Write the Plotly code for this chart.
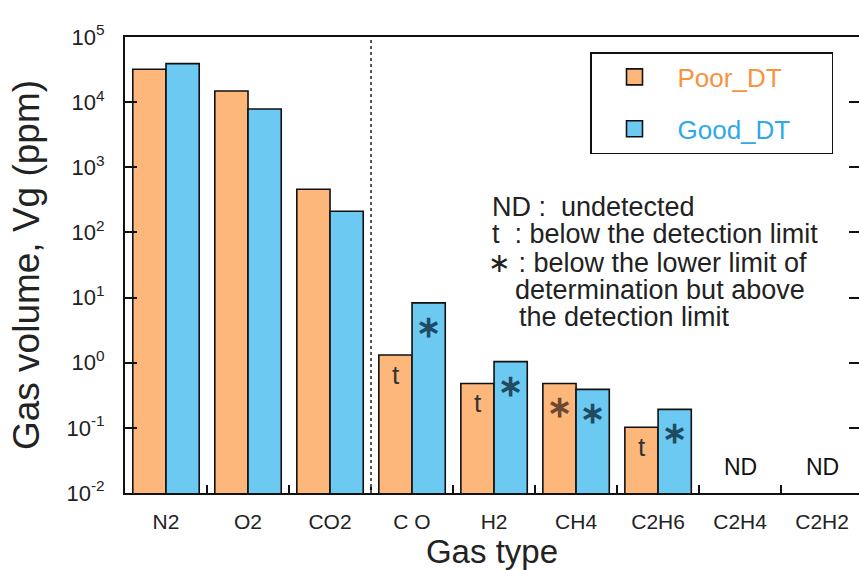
import math
import plotly.graph_objects as go

gases = ["N2", "O2", "CO2", "C O", "H2", "CH4", "C2H6", "C2H4", "C2H2"]
poor_dt = [32000, 14800, 460, 1.31, 0.48, 0.48, 0.102, None, None]
good_dt = [39000, 7850, 211, 8.3, 1.04, 0.39, 0.192, None, None]
poor_marks = ["", "", "", "t", "t", "∗", "t", "", ""]
good_marks = ["", "", "", "∗", "∗", "∗", "∗", "", ""]
nd_flags = ["", "", "", "", "", "", "", "ND", "ND"]
ytick_vals = [1e-2, 1e-1, 1, 10, 100, 1e3, 1e4, 1e5]
ytick_text = ["10<sup>-2</sup>", "10<sup>-1</sup>", "10<sup>0</sup>", "10<sup>1</sup>",
              "10<sup>2</sup>", "10<sup>3</sup>", "10<sup>4</sup>", "10<sup>5</sup>"]
legend_names = ["Poor_DT", "Good_DT"]
notes = ["ND :  undetected",
         "t  : below the detection limit",
         "∗ : below the lower limit of",
         "determination but above",
         "the detection limit"]

ORANGE = "#FDB77A"
BLUE = "#6CC9F1"
ORANGE_TXT = "#F8923F"
BLUE_TXT = "#2FA9E8"
FONT = "Liberation Sans, Arial, sans-serif"
PAD = "&nbsp;" * 5

fig = go.Figure()
fig.add_trace(go.Bar(x=gases, y=poor_dt, name=legend_names[0],
                     marker=dict(color=ORANGE, line=dict(color="#111", width=1.6)), showlegend=False))
fig.add_trace(go.Bar(x=gases, y=good_dt, name=legend_names[1],
                     marker=dict(color=BLUE, line=dict(color="#111", width=1.6)), showlegend=False))

# legend entries
fig.add_trace(go.Scatter(x=[None], y=[None], mode="markers", legendgroup="a",
                         name=f"<span style='color:{ORANGE_TXT}'>{legend_names[0]}</span>{PAD}",
                         marker=dict(symbol="square", size=16, color=ORANGE, line=dict(color="#111", width=1.6))))
fig.add_trace(go.Scatter(x=[None], y=[None], mode="markers", legendgroup="b",
                         name=f"<span style='color:{BLUE_TXT}'>{legend_names[1]}</span>{PAD}",
                         marker=dict(symbol="square", size=16, color=BLUE, line=dict(color="#111", width=1.6))))
# carrier for the right-side inner ticks
fig.add_trace(go.Scatter(x=[gases[0]], y=[1], yaxis="y2", mode="markers", marker=dict(opacity=0),
                         showlegend=False, hoverinfo="skip"))

ann = []
for i, g in enumerate(gases):
    if poor_marks[i]:
        is_t = poor_marks[i] == "t"
        ann.append(dict(x=i - 0.2, y=math.log10(poor_dt[i]), xref="x", yref="y",
                        text=poor_marks[i] if is_t else f"<b>{poor_marks[i]}</b>",
                        showarrow=False, yanchor="top", yshift=-3 if is_t else -5,
                        font=dict(size=26 if is_t else 30, color="#333" if is_t else "#6b4a30", family=FONT)))
    if good_marks[i]:
        ann.append(dict(x=i + 0.2, y=math.log10(good_dt[i]), xref="x", yref="y",
                        text=f"<b>{good_marks[i]}</b>",
                        showarrow=False, yanchor="top", yshift=-5,
                        font=dict(size=30, color="#1f4b63", family=FONT)))
    if nd_flags[i]:
        ann.append(dict(x=i, y=-1.6, xref="x", yref="y", text=nd_flags[i], showarrow=False,
                        font=dict(size=23, color="#111", family=FONT)))

note_pos = [(491, 206), (491, 234), (487, 262), (514, 289), (518, 316)]
for t, (px, py) in zip(notes, note_pos):
    ann.append(dict(x=(px - 125) / 734, y=(493 - py) / 456, xref="paper", yref="paper", text=t,
                    showarrow=False, xanchor="left", yanchor="middle", height=25, borderpad=0,
                    font=dict(size=27, color="#222", family=FONT)))

fig.update_layout(
    width=859, height=570,
    margin=dict(l=125, r=0, t=37, b=77),
    paper_bgcolor="white", plot_bgcolor="white",
    barmode="group", bargap=0.19, bargroupgap=0,
    font=dict(family=FONT, color="#222"),
    xaxis=dict(type="category", range=[-0.5, 8.45], showline=True, linecolor="#111", linewidth=2,
               mirror=True, ticks="inside", ticklen=8, tickcolor="#111", tickwidth=1.5,
               tickson="boundaries", showgrid=False, ticklabelstandoff=9,
               tickfont=dict(size=21, color="#222"),
               title=dict(text="Gas type", font=dict(size=33, color="#222"), standoff=0)),
    yaxis=dict(type="log", range=[-2, 5], showline=True, linecolor="#111", linewidth=2,
               ticks="inside", ticklen=12, tickcolor="#111", tickwidth=1.5, showgrid=False,
               tickvals=ytick_vals, ticktext=ytick_text, tickfont=dict(size=22, color="#222"),
               ticklabelstandoff=14,
               title=dict(text="Gas volume, Vg (ppm)", font=dict(size=37, color="#222"), standoff=15)),
    yaxis2=dict(type="log", range=[-2, 5], overlaying="y", side="right", anchor="x",
                showline=False, ticks="inside", ticklen=10, tickcolor="#111", tickwidth=1.5,
                tickvals=ytick_vals, showticklabels=False, showgrid=False, zeroline=False),
    legend=dict(x=(590 - 125) / 734, y=(493 - 52) / 456, xanchor="left", yanchor="top",
                bgcolor="white", bordercolor="#111", borderwidth=1.5,
                font=dict(size=26, family=FONT), tracegroupgap=15, itemsizing="trace",
                itemwidth=76, traceorder="grouped"),
    annotations=ann,
    shapes=[dict(type="line", xref="x", yref="paper", x0=2.5, x1=2.5, y0=0, y1=1,
                 line=dict(color="#555", width=2, dash="dot"))],
)

fig.write_html("out.html")
